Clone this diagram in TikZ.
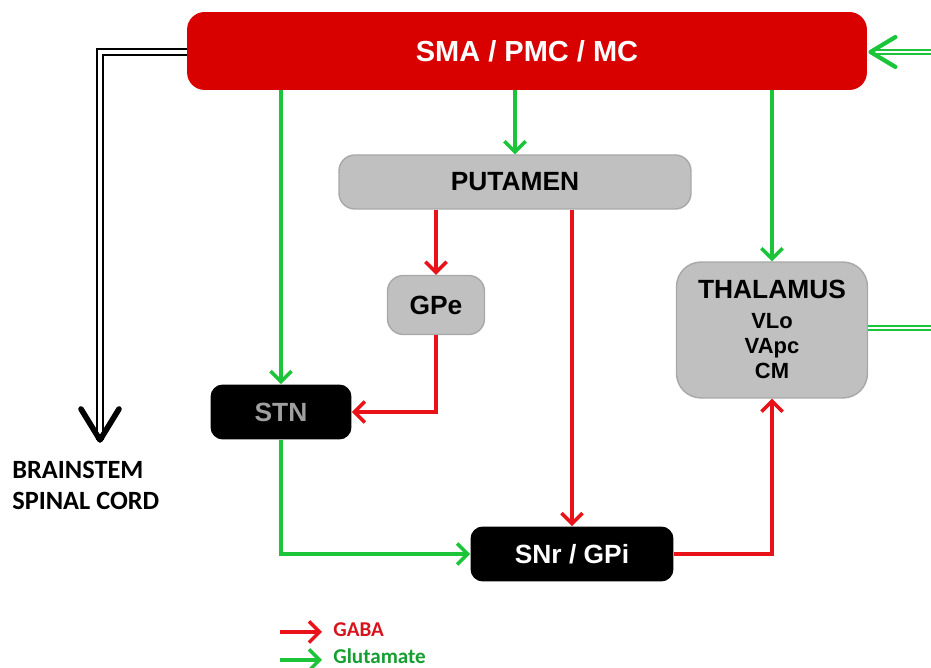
\documentclass[tikz,border=0pt]{standalone}
\usepackage{fontspec}
\setmainfont{Liberation Sans}
\newfontfamily\calibfont{Carlito}
\usetikzlibrary{arrows.meta}

\definecolor{smared}{RGB}{217,0,0}
\definecolor{gabared}{RGB}{232,18,24}
\definecolor{glugreen}{RGB}{28,196,58}
\definecolor{boxgray}{RGB}{192,192,192}
\definecolor{boxedge}{RGB}{168,168,168}
\definecolor{stntext}{RGB}{160,160,160}
\definecolor{legred}{RGB}{214,20,30}
\definecolor{leggreen}{RGB}{22,158,48}

\tikzset{
  fs/.style={font=\fontsize{#1}{#1}\selectfont\bfseries},
  cortex/.style={fill=smared, rounded corners=10pt, text=white, fs=16.5},
  graybox/.style={fill=boxgray, draw=boxedge, line width=0.8pt, rounded corners=9pt, text=black, fs=15},
  blackbox/.style={fill=black, rounded corners=7pt, fs=15},
  tip/.style={-{Straight Barb[length=6pt,width=12pt]}},
  gaba/.style={draw=gabared, line width=2pt, tip},
  glu/.style={draw=glugreen, line width=2pt, tip},
  outline2/.style={double, line width=1.5pt, double distance=1.8pt},
  thin2/.style={double, draw=glugreen, line width=0.9pt, double distance=1.4pt},
  legtext/.style={anchor=base west, inner sep=0pt, font=\calibfont\bfseries\fontsize{12}{14}\selectfont},
}

\begin{document}
\begin{tikzpicture}[x=0.02cm, y=-0.02cm]
\useasboundingbox (0,0) rectangle (931,668);

% nuclei
\node[cortex, minimum width=13.6cm, minimum height=1.56cm] (sma) at (527,51) {SMA / PMC / MC};
\node[graybox, minimum width=7.04cm, minimum height=1.08cm] (put) at (515,182) {PUTAMEN};
\node[graybox, minimum width=1.94cm, minimum height=1.18cm] (gpe) at (436,305) {GPe};
\node[graybox, minimum width=3.82cm, minimum height=2.72cm, rounded corners=14pt] (thal) at (772,330) {};
\node[fs=15, anchor=base] (thalname) at (772,299) {THALAMUS};
\node[fs=12.5, anchor=base] (vlo) at (772,329) {VLo};
\node[fs=12.5, anchor=base] (vapc) at (772,354) {VApc};
\node[fs=12.5, anchor=base] (cm) at (772,379) {CM};
\node[blackbox, text=stntext, minimum width=2.82cm, minimum height=1.1cm] (stn) at (281,412) {STN};
\node[blackbox, text=white, minimum width=4.06cm, minimum height=1.1cm] (snr) at (572,554) {SNr / GPi};

% descending output
\node[anchor=north west, align=left, font=\calibfont\bfseries\fontsize{15}{17.6}\selectfont, inner sep=0pt] (bs) at (12,461) {BRAINSTEM\\SPINAL CORD};
\coordinate (bsend) at (100,440);
\draw[outline2] (sma.west |- 0,52) -| (bsend);
\draw[line width=3.2pt, line cap=round, line join=round] (81,409) -- (bsend) -- (119,409);

% thalamo-cortical loop leaving and re-entering
\coordinate (loopout) at (931,328);
\coordinate (loopin) at (931,52);
\draw[thin2] (thal.east |- loopout) -- (loopout);
\draw[thin2, shorten <=-2pt] (loopin) -- ([xshift=3pt]sma.east |- loopin);
\draw[glugreen, line width=2.4pt, line cap=round, line join=round]
  ([xshift=16pt,yshift=8.5pt]sma.east |- loopin) -- ([xshift=1.8pt]sma.east |- loopin) -- ([xshift=16pt,yshift=-8.5pt]sma.east |- loopin);

% glutamatergic projections
\draw[glu] (stn.north |- sma.south) -- (stn.north);
\draw[glu] (put.north |- sma.south) -- (put.north);
\draw[glu] (thal.north |- sma.south) -- (thal.north);
\draw[glu] (stn.south) |- (snr.west);

% GABAergic projections
\draw[gaba] (gpe.north |- put.south) -- (gpe.north);
\draw[gaba] (snr.north |- put.south) -- (snr.north);
\draw[gaba] (gpe.south) |- (stn.east);
\draw[gaba] (snr.east) -| (thal.south);

% legend
\coordinate (l1a) at (280,632);
\coordinate (l1b) at (322,632);
\coordinate (l2a) at (280,660);
\coordinate (l2b) at (322,660);
\draw[gaba] (l1a) -- (l1b);
\draw[glu] (l2a) -- (l2b);
\node[legtext, text=legred] (lg1) at (333,637) {GABA};
\node[legtext, text=leggreen] (lg2) at (333,664) {Glutamate};
\end{tikzpicture}
\end{document}
